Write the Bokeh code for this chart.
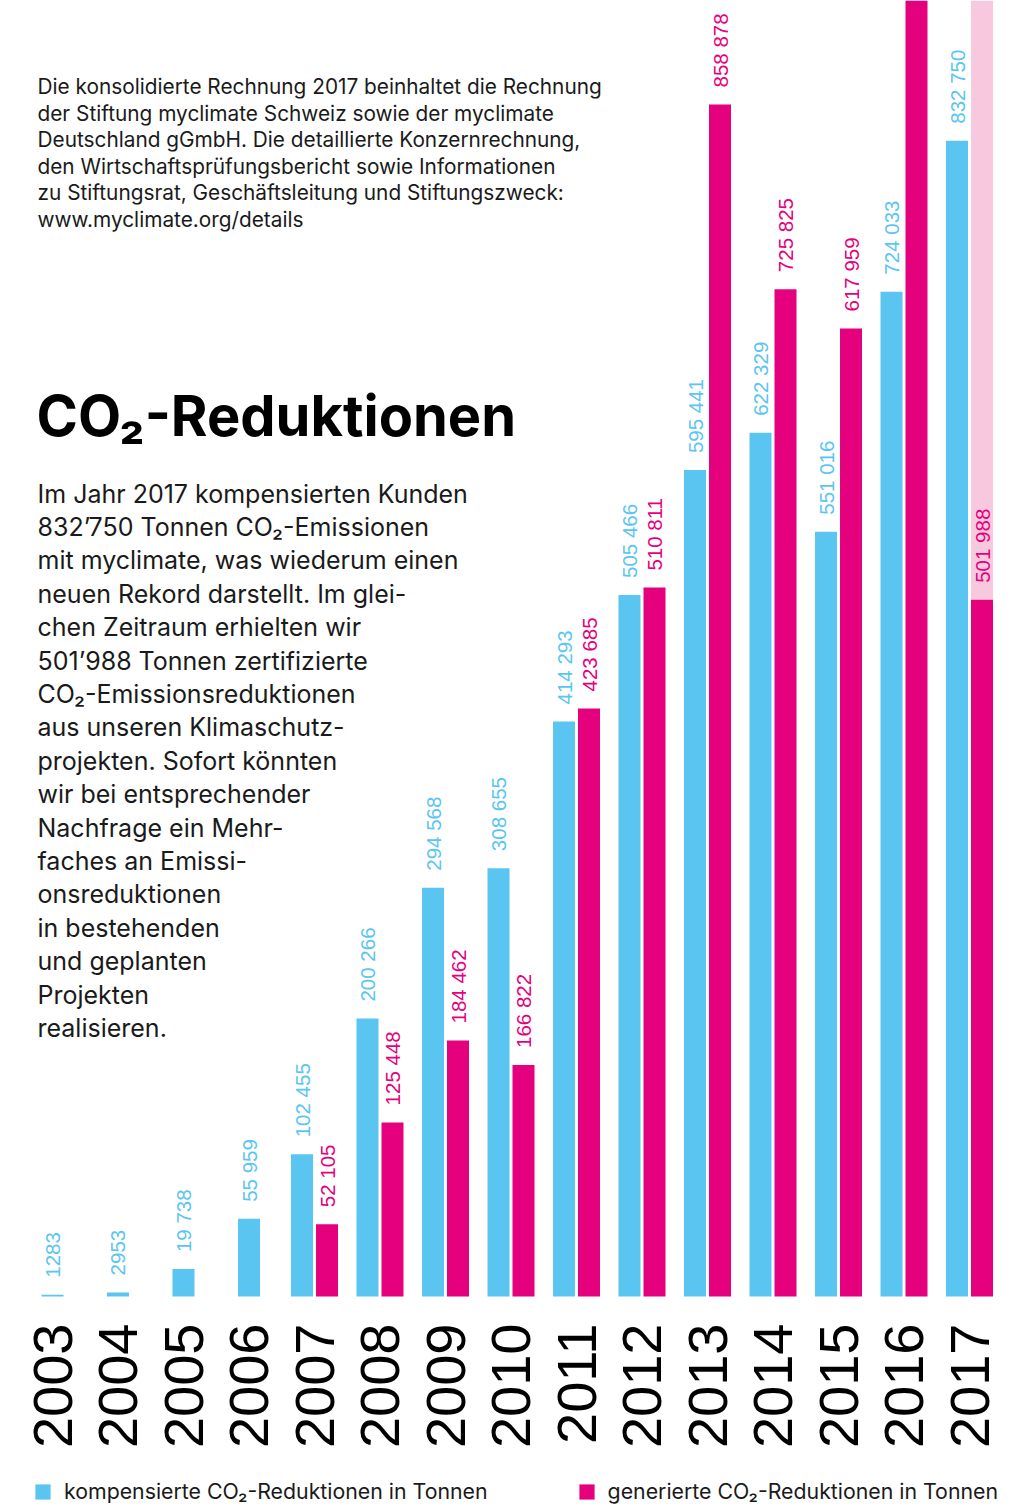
import math
from bokeh.plotting import figure
from bokeh.models import Range1d, ColumnDataSource, Legend, LegendItem
from bokeh.core.properties import value
from bokeh.embed import file_html
from bokeh.resources import INLINE

# ---------------- data ----------------
years = [2003, 2004, 2005, 2006, 2007, 2008, 2009, 2010, 2011, 2012, 2013, 2014, 2015, 2016, 2017]
year_labels = [str(y) for y in years]
kompensiert = [1283, 2953, 19738, 55959, 102455, 200266, 294568, 308655, 414293, 505466,
               595441, 622329, 551016, 724033, 832750]
kompensiert_labels = ["1283", "2953", "19 738", "55 959", "102 455", "200 266", "294 568",
                      "308 655", "414 293", "505 466", "595 441", "622 329", "551 016",
                      "724 033", "832 750"]
# bar heights as drawn (None = no bar); 2016 runs off the top of the chart (estimated),
# the 2015 bar is drawn taller than its printed value
generiert = [None, None, None, None, 52105, 125448, 184462, 166822, 423685, 510811,
             858878, 725825, 697500, 1050000, 501988]
generiert_labels = ["", "", "", "", "52 105", "125 448", "184 462", "166 822", "423 685",
                    "510 811", "858 878", "725 825", "617 959", "", "501 988"]
# light pink extension above the 2017 generated bar (runs off the top, estimated)
extension_year = [2017]
extension_top = [1000000]

series_names = ["kompensierte CO\u2082-Reduktionen in Tonnen",
                "generierte CO\u2082-Reduktionen in Tonnen"]

title_text = "CO\u2082-Reduktionen"
intro_lines = [
    "Die konsolidierte Rechnung 2017 beinhaltet die Rechnung",
    "der Stiftung myclimate Schweiz sowie der myclimate",
    "Deutschland gGmbH. Die detaillierte Konzernrechnung,",
    "den Wirtschaftsprüfungsbericht sowie Informationen",
    "zu Stiftungsrat, Geschäftsleitung und Stiftungszweck:",
    "www.myclimate.org/details",
]
body_lines = [
    "Im Jahr 2017 kompensierten Kunden",
    "832\u2019750 Tonnen CO\u2082-Emissionen",
    "mit myclimate, was wiederum einen",
    "neuen Rekord darstellt. Im glei-",
    "chen Zeitraum erhielten wir",
    "501\u2019988 Tonnen zertifizierte",
    "CO\u2082-Emissionsreduktionen",
    "aus unseren Klimaschutz-",
    "projekten. Sofort könnten",
    "wir bei entsprechender",
    "Nachfrage ein Mehr-",
    "faches an Emissi-",
    "onsreduktionen",
    "in bestehenden",
    "und geplanten",
    "Projekten",
    "realisieren.",
]

# ---------------- styling / layout ----------------
BLUE = "#5BC5F2"
MAGENTA = "#E5007D"
PINK = "#F8C9DE"
TEXT = "#1a1a1a"
BODY_FONT = "Inter"
NUM_FONT = "Liberation Sans"

W, H = 1031, 1506
X_FIRST = 52.0      # canvas x of the first year
PX_YEAR = 65.5      # pixels per year
BASE = 1296.0       # canvas y of the zero line
K = 1192.0 / 858878.0  # pixels per tonne

def dx(px):
    return years[0] + (px - X_FIRST) / PX_YEAR

def dy(py):
    return (BASE - py) / K

p = figure(width=W, height=H, x_range=Range1d(dx(0), dx(W)), y_range=Range1d(dy(H), dy(0)),
           x_axis_type=None, y_axis_type=None, toolbar_location=None,
           output_backend="svg", min_border=0)
p.outline_line_color = None
p.grid.visible = False
p.background_fill_color = "white"
p.border_fill_color = "white"

BAR_W = 22.0 / PX_YEAR
OFF = 12.5 / PX_YEAR

blue_x = [y - OFF if g is not None else y for y, g in zip(years, generiert)]
blue_src = ColumnDataSource(dict(x=blue_x, top=kompensiert, label=kompensiert_labels))
gen_idx = [i for i, g in enumerate(generiert) if g is not None]
mag_src = ColumnDataSource(dict(x=[years[i] + OFF for i in gen_idx],
                                top=[generiert[i] for i in gen_idx]))
mag_lab_idx = [i for i in gen_idx if generiert_labels[i]]
mag_lab_src = ColumnDataSource(dict(x=[years[i] + OFF for i in mag_lab_idx],
                                    top=[generiert[i] for i in mag_lab_idx],
                                    label=[generiert_labels[i] for i in mag_lab_idx]))
ext_src = ColumnDataSource(dict(x=[y + OFF for y in extension_year],
                                bottom=[generiert[years.index(y)] for y in extension_year],
                                top=extension_top))

p.vbar(x="x", bottom="bottom", top="top", width=BAR_W, source=ext_src,
       fill_color=PINK, line_color=None)
r_blue = p.vbar(x="x", top="top", bottom=0, width=BAR_W, source=blue_src,
                fill_color=BLUE, line_color=None)
r_mag = p.vbar(x="x", top="top", bottom=0, width=BAR_W, source=mag_src,
               fill_color=MAGENTA, line_color=None)

LAB_KW = dict(angle=math.pi / 2, text_align="left", text_baseline="middle", y_offset=-17,
              text_font=value(NUM_FONT), text_font_size="20.5px")
p.text(x="x", y="top", text="label", source=blue_src, text_color=BLUE, **LAB_KW)
p.text(x="x", y="top", text="label", source=mag_lab_src, text_color=MAGENTA, **LAB_KW)

# year labels along the zero line
p.text(x=years, y=[0] * len(years), text=year_labels, angle=math.pi / 2,
       text_align="right", text_baseline="middle", y_offset=27,
       text_font=value(NUM_FONT), text_font_size="56px", text_color="#000000")

# ---------------- texts ----------------
intro_src = ColumnDataSource(dict(x=[dx(37)] * len(intro_lines),
                                  y=[dy(86 + 26.6 * i) for i in range(len(intro_lines))],
                                  t=intro_lines))
p.text(x="x", y="y", text="t", source=intro_src, text_font=value(BODY_FONT),
       text_font_size="20.8px", text_color=TEXT, text_align="left", text_baseline="middle")

p.text(x=[dx(36)], y=[dy(415)], text=[title_text], text_font=value(BODY_FONT),
       text_font_size="56px", text_font_style="bold", text_color="#000000",
       text_align="left", text_baseline="middle")

body_src = ColumnDataSource(dict(x=[dx(37)] * len(body_lines),
                                 y=[dy(493 + 33.4 * i) for i in range(len(body_lines))],
                                 t=body_lines))
p.text(x="x", y="y", text="t", source=body_src, text_font=value(BODY_FONT),
       text_font_size="25px", text_color=TEXT, text_align="left", text_baseline="middle")

# ---------------- legend ----------------
legend = Legend(items=[LegendItem(label=series_names[0], renderers=[r_blue]),
                       LegendItem(label=series_names[1], renderers=[r_mag])],
                orientation="horizontal", location=(33, 2),
                glyph_width=19, glyph_height=19, label_standoff=12, spacing=89,
                padding=0, margin=0, border_line_color=None,
                label_text_font=BODY_FONT, label_text_font_size="21.3px",
                label_text_color=TEXT, background_fill_alpha=0)
p.add_layout(legend, "center")

open("out.html", "w").write(file_html(p, INLINE))
